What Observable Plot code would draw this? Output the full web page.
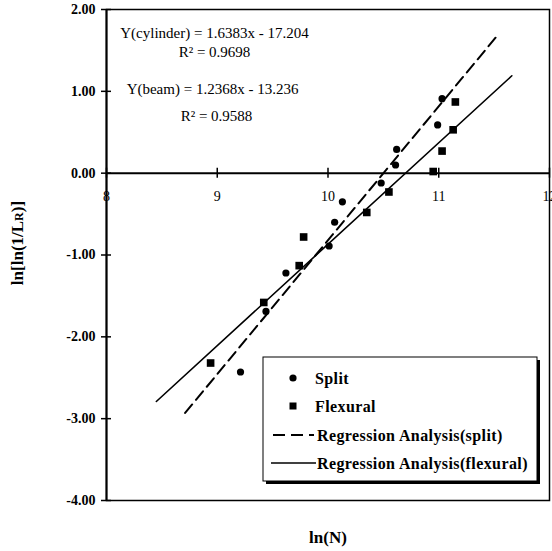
<!DOCTYPE html>
<html>
<head>
<meta charset="utf-8">
<script src="https://cdn.jsdelivr.net/npm/d3@7"></script>
<script src="https://cdn.jsdelivr.net/npm/@observablehq/plot@0.6"></script>
<style>
  html, body { margin: 0; padding: 0; background: #fff; overflow: hidden; }
</style>
</head>
<body>
<div id="chart"></div>
<script>
// ---- data ----
const splitX = [9.21, 9.44, 9.62, 10.01, 10.06, 10.13, 10.48, 10.61, 10.62, 10.99, 11.03];
const splitY = [-2.43, -1.69, -1.22, -0.89, -0.60, -0.35, -0.12, 0.10, 0.29, 0.59, 0.91];
const flexX = [8.94, 9.42, 9.74, 9.78, 10.35, 10.55, 10.95, 11.03, 11.13, 11.15];
const flexY = [-2.32, -1.58, -1.13, -0.78, -0.48, -0.23, 0.02, 0.27, 0.53, 0.87];
const regSplitX = [8.71, 11.54];
const regSplitY = [-2.93, 1.70];
const regFlexX = [8.45, 11.66];
const regFlexY = [-2.79, 1.19];
const xTicks = [8, 9, 10, 11, 12];
const yTicks = [-4, -3, -2, -1, 0, 1, 2];
const equations = ["Y(cylinder) = 1.6383x - 17.204", "R² = 0.9698", "Y(beam) = 1.2368x - 13.236", "R² = 0.9588"];
const legendLabels = ["Split", "Flexural", "Regression Analysis(split)", "Regression Analysis(flexural)"];

const split = splitX.map((x, i) => ({x, y: splitY[i]}));
const flex = flexX.map((x, i) => ({x, y: flexY[i]}));
const regSplit = regSplitX.map((x, i) => ({x, y: regSplitY[i]}));
const regFlex = regFlexX.map((x, i) => ({x, y: regFlexY[i]}));
const eqOffsets = [24, 43, 80, 107];
const eqDx = [108, 108, 106, 110];

const serif = "Liberation Serif";

const svg = Plot.plot({
  width: 552,
  height: 551,
  marginLeft: 106,
  marginRight: 3,
  marginTop: 9,
  marginBottom: 51,
  x: {domain: [8, 12], axis: null},
  y: {domain: [-4, 2], axis: null},
  style: {fontFamily: serif, background: "#fff"},
  marks: [
    Plot.frame({stroke: "#000", strokeWidth: 1.5}),
    Plot.ruleY([0], {stroke: "#000", strokeWidth: 2}),
    Plot.ruleX([8], {stroke: "#000", strokeWidth: 2}),
    Plot.ruleY(yTicks, {x1: 8, x2: 8, insetLeft: -5, insetRight: -5, stroke: "#000", strokeWidth: 1.5}),
    Plot.ruleX(xTicks, {y1: 0, y2: 0, insetTop: -5, insetBottom: -5, stroke: "#000", strokeWidth: 1.5}),
    Plot.text(yTicks, {x: 8, y: d => d, dx: -11, textAnchor: "end", text: d => d.toFixed(2),
      fontFamily: serif, fontSize: 14, fontWeight: "bold", fill: "#000"}),
    Plot.text(xTicks, {x: d => d, y: 0, dy: 23, text: d => String(d),
      fontFamily: serif, fontSize: 14, fill: "#000"}),
    Plot.line(regSplit, {x: "x", y: "y", stroke: "#000", strokeWidth: 2, strokeDasharray: "11,6"}),
    Plot.line(regFlex, {x: "x", y: "y", stroke: "#000", strokeWidth: 1.6}),
    Plot.dot(split, {x: "x", y: "y", r: 3.6, fill: "#000", stroke: "none"}),
    Plot.dot(flex, {x: "x", y: "y", r: 4.3, symbol: "square", fill: "#000", stroke: "none"}),
    ...equations.map((t, i) => Plot.text([t], {frameAnchor: "top-left", dx: eqDx[i], dy: eqOffsets[i], text: d => d,
      textAnchor: "middle", lineAnchor: "middle", fontFamily: serif, fontSize: 15, fill: "#000"}))
  ]
});

document.getElementById("chart").appendChild(svg);
const s = d3.select(svg);

// axis titles
const yl = s.append("text")
  .attr("transform", "translate(23,243) rotate(-90)")
  .attr("text-anchor", "middle")
  .attr("font-family", serif).attr("font-size", 17).attr("font-weight", "bold").attr("fill", "#000");
yl.append("tspan").text("ln[ln(1/L");
yl.append("tspan").attr("font-size", 12).text("R");
yl.append("tspan").attr("font-size", 17).text(")]");

s.append("text")
  .attr("x", 328).attr("y", 543)
  .attr("text-anchor", "middle")
  .attr("font-family", serif).attr("font-size", 17).attr("font-weight", "bold").attr("fill", "#000")
  .text("ln(N)");

// legend
const lg = s.append("g");
lg.append("rect").attr("x", 266).attr("y", 360).attr("width", 274).attr("height", 124).attr("fill", "#000");
lg.append("rect").attr("x", 263).attr("y", 357).attr("width", 274).attr("height", 124)
  .attr("fill", "#fff").attr("stroke", "#000").attr("stroke-width", 1);
const rowsY = [378, 406, 435, 463];
lg.append("circle").attr("cx", 293).attr("cy", rowsY[0]).attr("r", 3.6).attr("fill", "#000");
lg.append("rect").attr("x", 289.5).attr("y", rowsY[1] - 3.5).attr("width", 7).attr("height", 7).attr("fill", "#000");
lg.append("line").attr("x1", 273).attr("x2", 314).attr("y1", rowsY[2]).attr("y2", rowsY[2])
  .attr("stroke", "#000").attr("stroke-width", 2).attr("stroke-dasharray", "12,6");
lg.append("line").attr("x1", 271).attr("x2", 316).attr("y1", rowsY[3]).attr("y2", rowsY[3])
  .attr("stroke", "#000").attr("stroke-width", 1.6);
const lx = [315, 315, 317, 317];
legendLabels.forEach((t, i) => {
  lg.append("text").attr("x", lx[i]).attr("y", rowsY[i]).attr("dy", "0.35em")
    .attr("text-anchor", "start")
    .attr("font-family", serif).attr("font-size", 16).attr("font-weight", "bold")
    .attr("letter-spacing", 0.4).attr("fill", "#000")
    .text(t);
});
</script>
</body>
</html>
